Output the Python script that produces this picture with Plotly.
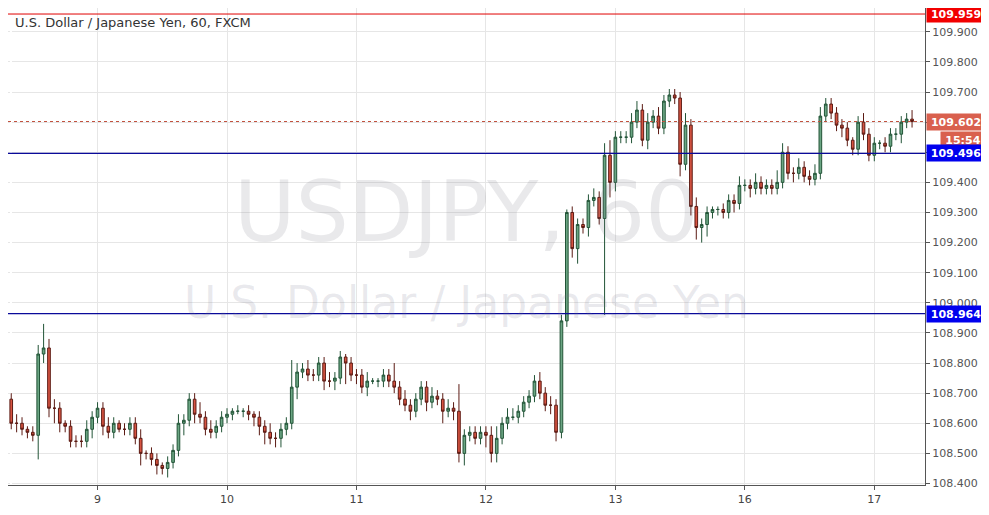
import plotly.graph_objects as go

first_open = 108.68
close_d8 = [108.60,108.60,108.58,108.57,108.56,108.83,108.85,108.65,108.65,108.60,108.59,108.54,108.54,108.54,108.58,108.62]
close_d9 = [108.65,108.59,108.57,108.60,108.58,108.58,108.60,108.55,108.50,108.50,108.48,108.46,108.45,108.47,108.51,108.60,108.61,108.68,108.63,108.62,108.58,108.57,108.59,108.62]
close_d10 = [108.63,108.64,108.64,108.64,108.63,108.62,108.59,108.57,108.55,108.55,108.58,108.60,108.72,108.77,108.78,108.76,108.76,108.80,108.74,108.74,108.75,108.82,108.80,108.76]
close_d11 = [108.76,108.72,108.74,108.74,108.74,108.76,108.74,108.72,108.68,108.66,108.64,108.68,108.72,108.67,108.69,108.68,108.64,108.65,108.64,108.50,108.56,108.57,108.55,108.57]
close_d12 = [108.56,108.50,108.55,108.60,108.62,108.62,108.64,108.67,108.69,108.74,108.70,108.66,108.66,108.57,108.94,109.30,109.18,109.26,109.25,109.34,109.35,109.28,109.49,109.40]
close_d13 = [109.55,109.55,109.55,109.60,109.64,109.54,109.60,109.62,109.58,109.67,109.69,109.68,109.46,109.59,109.32,109.25,109.26,109.30,109.31,109.31,109.30,109.34,109.33,109.39]
close_d16 = [109.39,109.38,109.40,109.38,109.39,109.38,109.40,109.50,109.43,109.43,109.45,109.42,109.41,109.43,109.62,109.66,109.63,109.59,109.58,109.54,109.51,109.60,109.56,109.49]
close_d17 = [109.53,109.53,109.52,109.56,109.56,109.60,109.61,109.602]

up_wick = [0.02,0.03,0.02,0.01,0.02,0.03,0.08,0.03,0.03,0.02,0.01,0.02,0.02,0.02,0.03,0.02,
           0.02,0.02,0.03,0.02,0.01,0.02,0.02,0.02,0.03,0.01,0.02,0.02,0.01,0.02,0.02,0.03,0.02,0.02,0.02,0.04,0.02,0.03,0.02,0.02,
           0.02,0.01,0.02,0.01,0.02,0.01,0.02,0.02,0.03,0.02,0.02,0.02,0.09,0.03,0.02,0.03,0.02,0.02,0.02,0.03,0.02,0.02,0.01,0.02,
           0.02,0.02,0.03,0.01,0.01,0.02,0.02,0.06,0.02,0.03,0.02,0.02,0.02,0.02,0.03,0.02,0.02,0.03,0.02,0.09,0.02,0.02,0.02,0.02,
           0.02,0.03,0.04,0.02,0.03,0.03,0.02,0.02,0.02,0.02,0.03,0.02,0.03,0.02,0.02,0.01,0.02,0.02,0.02,0.02,0.03,0.02,0.04,0.05,
           0.02,0.02,0.02,0.03,0.03,0.02,0.03,0.02,0.03,0.02,0.02,0.02,0.02,0.04,0.02,0.03,0.02,0.02,0.01,0.01,0.02,0.02,0.02,0.03,
           0.02,0.02,0.03,0.02,0.02,0.02,0.04,0.03,0.02,0.02,0.03,0.02,0.02,0.03,0.03,0.02,0.02,0.02,0.02,0.02,0.01,0.02,0.03,0.02,
           0.02,0.01,0.02,0.02,0.02,0.02,0.02,0.03]
down_wick = [0.02,0.03,0.02,0.02,0.02,0.08,0.03,0.03,0.05,0.03,0.02,0.02,0.02,0.02,0.02,0.03,
             0.02,0.03,0.02,0.02,0.01,0.02,0.02,0.02,0.04,0.02,0.02,0.03,0.02,0.03,0.02,0.02,0.04,0.02,0.03,0.02,0.02,0.02,0.02,0.02,
             0.02,0.02,0.01,0.02,0.02,0.03,0.03,0.04,0.02,0.03,0.03,0.02,0.02,0.04,0.02,0.02,0.02,0.02,0.03,0.02,0.03,0.02,0.07,0.02,
             0.03,0.02,0.03,0.01,0.02,0.02,0.02,0.02,0.02,0.02,0.03,0.02,0.02,0.03,0.02,0.02,0.04,0.02,0.03,0.03,0.04,0.02,0.02,0.02,
             0.04,0.03,0.03,0.02,0.02,0.01,0.02,0.02,0.02,0.02,0.02,0.02,0.03,0.03,0.02,0.02,0.03,0.05,0.02,0.03,0.02,0.02,0.32,0.05,
             0.03,0.02,0.02,0.02,0.02,0.02,0.03,0.02,0.02,0.02,0.02,0.02,0.04,0.02,0.03,0.04,0.05,0.04,0.02,0.02,0.02,0.02,0.03,0.02,
             0.02,0.03,0.02,0.02,0.02,0.02,0.02,0.02,0.02,0.03,0.02,0.02,0.02,0.02,0.02,0.02,0.02,0.02,0.03,0.02,0.02,0.02,0.02,0.02,
             0.02,0.02,0.02,0.02,0.02,0.03,0.02,0.02]

day_labels = ["9", "10", "11", "12", "13", "16", "17"]
y_ticks = [108.4, 108.5, 108.6, 108.7, 108.8, 108.9, 109.0, 109.1, 109.2, 109.3, 109.4, 109.5, 109.6, 109.7, 109.8, 109.9]
levels = [109.959, 109.496, 108.964]
last_price = 109.602

closes = close_d8 + close_d9 + close_d10 + close_d11 + close_d12 + close_d13 + close_d16 + close_d17
opens = [first_open] + closes[:-1]
n = len(closes)
highs = [max(o, c) + w for o, c, w in zip(opens, closes, up_wick[:n])]
lows = [min(o, c) - w for o, c, w in zip(opens, closes, down_wick[:n])]
x = list(range(n))
day_starts = [len(close_d8) + 24 * i for i in range(len(day_labels))]

fig = go.Figure(go.Candlestick(
    x=x, open=opens, high=highs, low=lows, close=closes,
    increasing=dict(line=dict(color="#225437", width=1), fillcolor="#6ba583"),
    decreasing=dict(line=dict(color="#5b1a13", width=1), fillcolor="#d75442"),
    whiskerwidth=0, showlegend=False))

fig.add_hline(y=levels[0], line=dict(color="#e00000", width=1))
fig.add_hline(y=levels[1], line=dict(color="#0a0a9a", width=1.3))
fig.add_hline(y=levels[2], line=dict(color="#0a0a9a", width=1.3))
fig.add_hline(y=last_price, line=dict(color="#c0503c", width=1, dash="dot"))

def tag(y, text, bg, yshift=0, xshift=1, w=56):
    fig.add_annotation(x=1, xref="paper", y=y, yref="y", text="<b>%s</b>" % text,
                       showarrow=False, xanchor="left", xshift=xshift, yshift=yshift,
                       bgcolor=bg, font=dict(color="white", size=11, family="DejaVu Sans"),
                       width=w, height=14, borderpad=1)

tag(levels[0], "109.959", "#f20000")
tag(last_price, "109.602", "#d9604e")
tag(last_price, "15:54", "#d9604e", yshift=-18, xshift=15, w=42)
tag(levels[1], "109.496", "#0000ee")
tag(levels[2], "108.964", "#0000ee")

fig.add_annotation(x=0.5, xref="paper", y=109.30, yref="y", text="USDJPY, 60", showarrow=False,
                   font=dict(size=84, color="rgba(120,120,130,0.16)", family="DejaVu Sans"))
fig.add_annotation(x=0.5, xref="paper", y=109.00, yref="y", text="U.S. Dollar / Japanese Yen", showarrow=False,
                   font=dict(size=44, color="rgba(120,120,140,0.16)", family="DejaVu Sans"))
fig.add_annotation(x=0, xref="paper", y=1, yref="paper", text="U.S. Dollar / Japanese Yen, 60, FXCM",
                   showarrow=False, xanchor="left", yanchor="top", xshift=5, yshift=-5,
                   font=dict(size=13, color="#333", family="DejaVu Sans"))

fig.update_layout(
    width=981, height=507, margin=dict(l=0, r=64, t=0, b=30, autoexpand=False),
    paper_bgcolor="white", plot_bgcolor="white",
    xaxis=dict(range=[-0.6, 169.4], tickvals=day_starts, ticktext=day_labels,
               rangeslider=dict(visible=False), showgrid=True, gridcolor="#e6e6e6",
               showline=True, linecolor="#555", mirror=True, ticks="outside", ticklen=4,
               tickcolor="#555", tickfont=dict(size=11, color="#444", family="DejaVu Sans")),
    yaxis=dict(range=[108.395, 109.979], side="right", tickvals=y_ticks, tickformat=".3f",
               showgrid=True, gridcolor="#e6e6e6", showline=True, linecolor="#555", mirror=True,
               ticks="outside", ticklen=4, tickcolor="#555",
               tickfont=dict(size=11, color="#555", family="DejaVu Sans")),
)

fig.write_html("out.html")
